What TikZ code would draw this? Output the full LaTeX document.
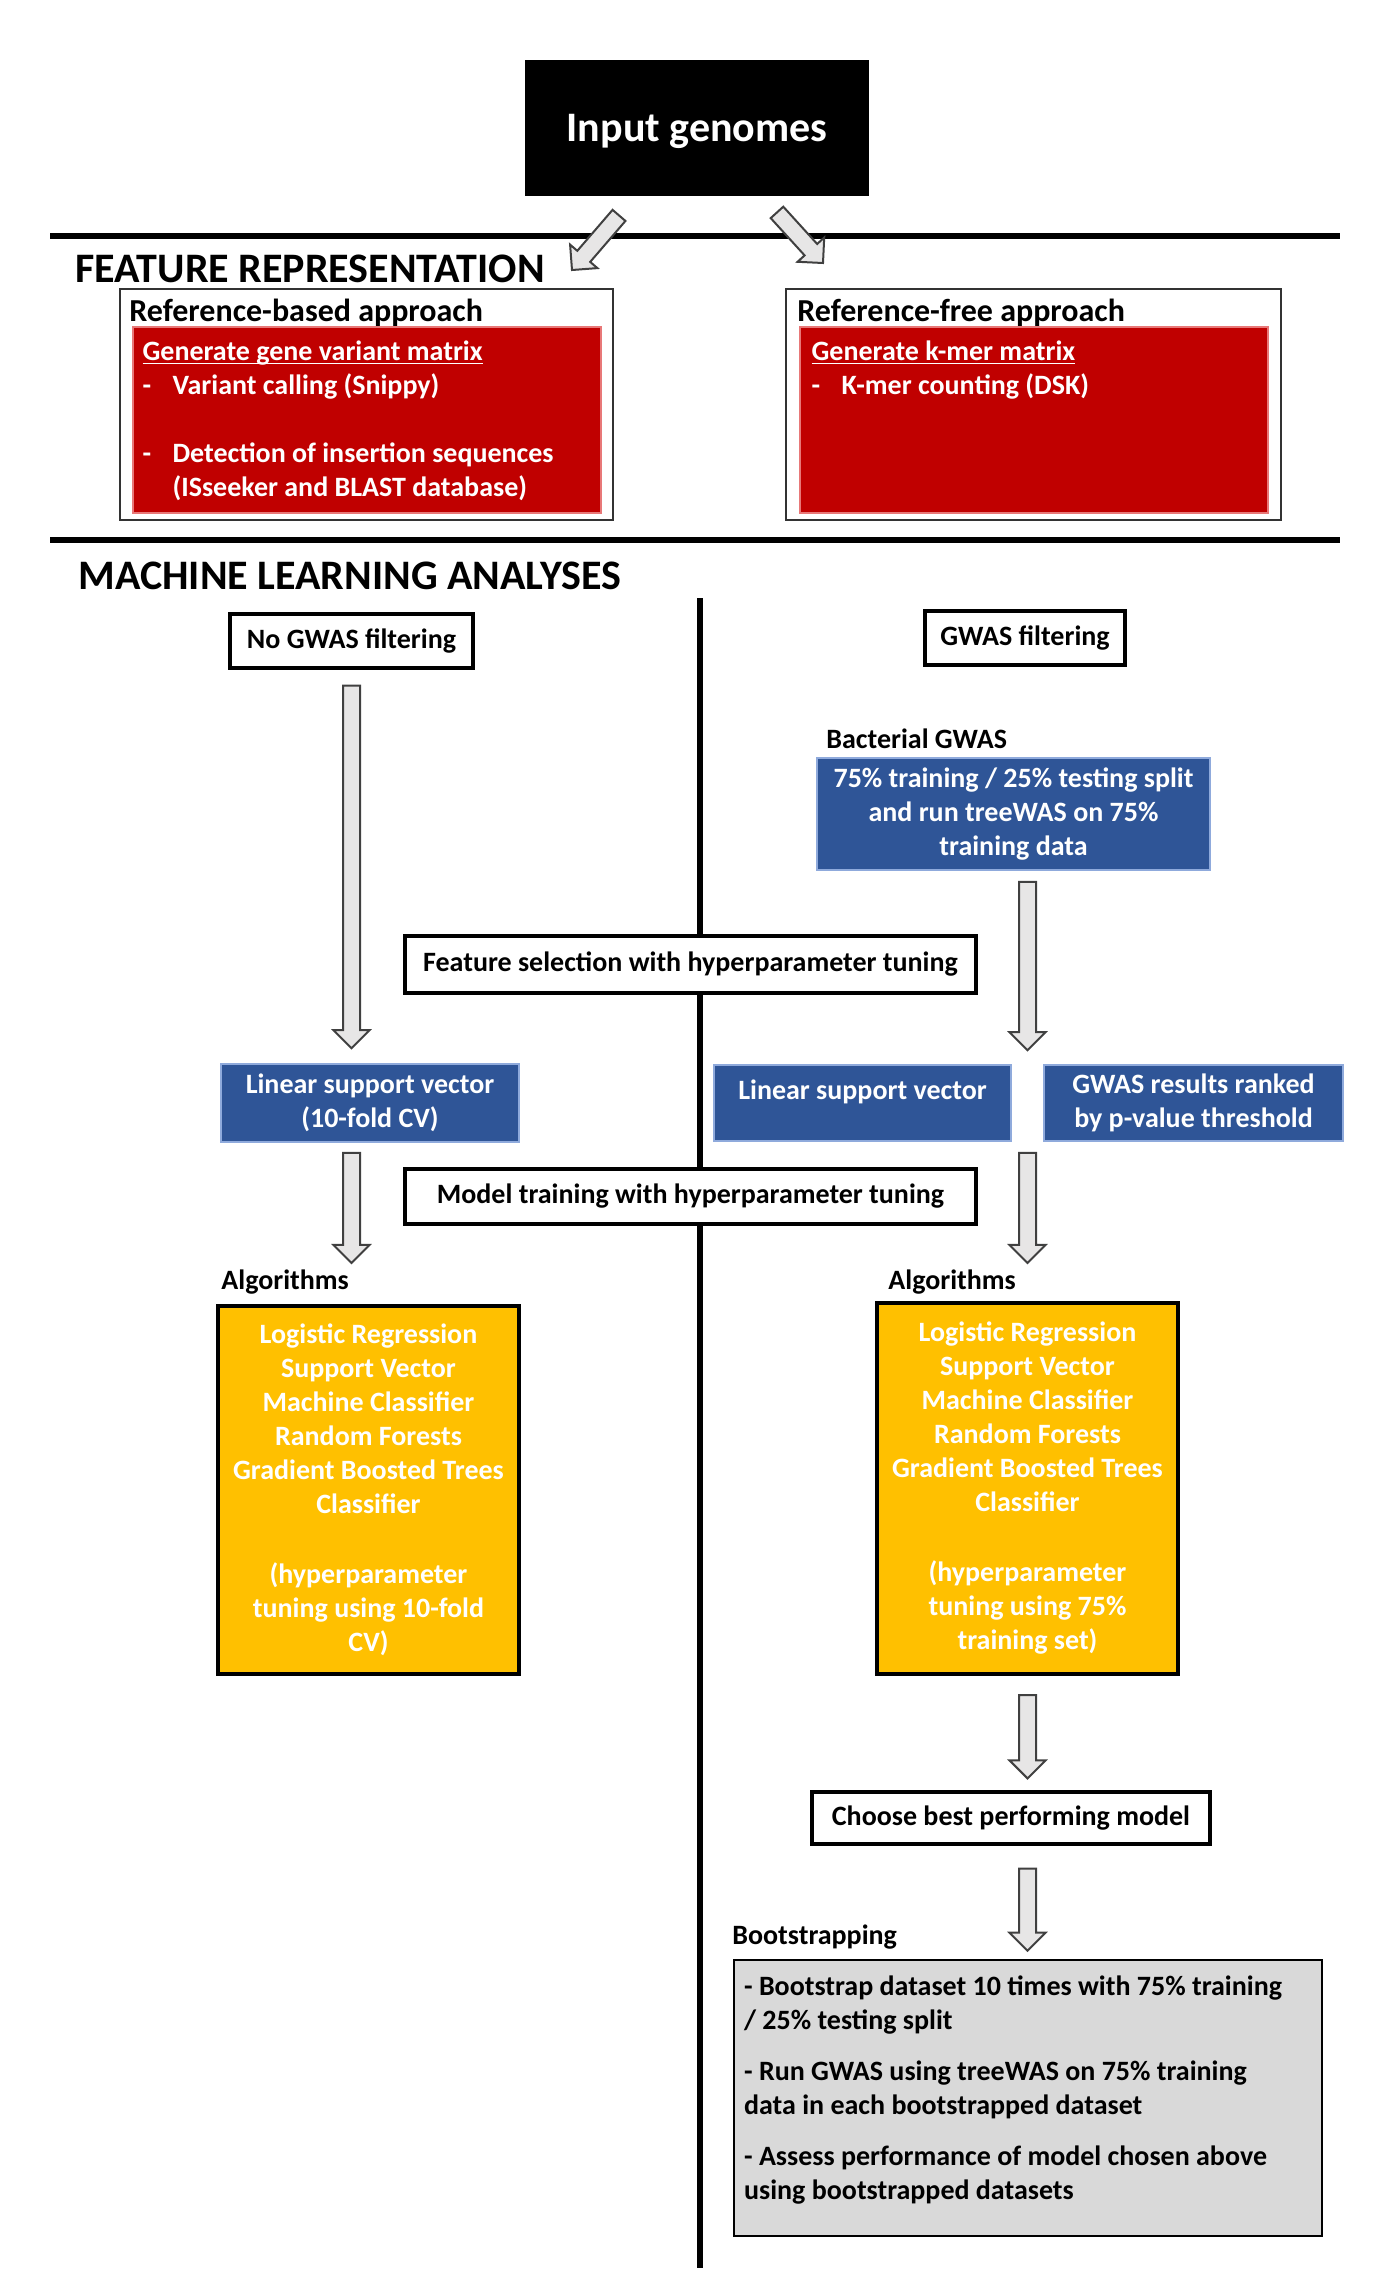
\documentclass[tikz,border=0pt]{standalone}
\usepackage{fontspec}
\setmainfont{Carlito}
\usepackage{tikz}
\usetikzlibrary{calc}
\definecolor{gwasred}{HTML}{C00000}
\definecolor{gwasblue}{HTML}{2F5597}
\definecolor{gwasyellow}{HTML}{FFC000}
\definecolor{gwasgrey}{HTML}{D9D9D9}
\definecolor{arrowfill}{HTML}{E7E6E6}
\definecolor{rededge}{HTML}{E87878}
\definecolor{blueedge}{HTML}{8FAADC}
\newcommand{\ulbox}[1]{\underline{\smash{#1}}}
\tikzset{
	sepline/.style={line width=3.4pt},
	hollow/.style={draw=black!75, fill=arrowfill, line width=1pt, line join=miter},
	outer/.style={draw=black!80, line width=1pt, inner sep=0pt},
	redbox/.style={draw=rededge, fill=gwasred, line width=0.8pt, inner sep=0pt},
	bluebox/.style={draw=blueedge, fill=gwasblue, line width=0.8pt, text=white, align=center, inner sep=0pt},
	yellowbox/.style={draw=black, fill=gwasyellow, line width=2pt, text=white, align=center, inner sep=0pt},
	framebox/.style={draw=black, fill=white, line width=1.6pt, inner sep=0pt},
	greybox/.style={draw=black, fill=gwasgrey, line width=1.3pt, inner sep=0pt},
	heading/.style={font=\bfseries\fontsize{21}{25}\selectfont, anchor=base west, inner sep=0pt},
	sublabel/.style={anchor=base west, inner sep=0pt}
}

\begin{document}
\begin{tikzpicture}[x=0.5pt, y=-0.5pt, font=\bfseries\fontsize{14}{17}\selectfont]
	\def\blockarrow#1#2{ % #1 tail, #2 tip
		\draw[hollow] let \p1=(#1), \p2=(#2), \n1={atan2(\y2-\y1,\x2-\x1)} in
			($(\p1)+(\n1+90:4.25pt)$) -- ($(\p2)+(\n1+180:9pt)+(\n1+90:4.25pt)$)
			-- ($(\p2)+(\n1+180:9pt)+(\n1+90:9pt)$) -- (\p2)
			-- ($(\p2)+(\n1+180:9pt)+(\n1-90:9pt)$) -- ($(\p2)+(\n1+180:9pt)+(\n1-90:4.25pt)$)
			-- ($(\p1)+(\n1-90:4.25pt)$) -- cycle;
	}
	\useasboundingbox (0,0) rectangle (1378,2282);

	\draw[sepline] (50,236) -- (1340,236);
	\draw[sepline] (50,540) -- (1340,540);
	\draw[sepline] (700,598) -- (700,2268);

	\node[fill=black, text=white, minimum width=172pt, minimum height=68pt, text depth=0pt, font=\bfseries\fontsize{21}{25}\selectfont] (input) at (697,128) {Input genomes};

	% feature representation
	\node[heading] (featrep) at (75,282) {FEATURE REPRESENTATION};
	\node[outer, minimum width=246.5pt, minimum height=115.5pt] (refbased) at (366.5,404.5) {};
	\node[outer, minimum width=247.5pt, minimum height=115.5pt] (reffree) at (1033.5,404.5) {};
	\node[sublabel, font=\bfseries\fontsize{16}{19}\selectfont] (refbasedlbl) at ($(refbased.north west)+(10,33)$) {Reference-based approach};
	\node[sublabel, font=\bfseries\fontsize{16}{19}\selectfont] (reffreelbl) at ($(reffree.north west)+(12,33)$) {Reference-free approach};
	\node[redbox, minimum width=234pt, minimum height=93pt] (redleft) at (367,420) {};
	\node[redbox, minimum width=234pt, minimum height=93pt] (redright) at (1034,420) {};
	\node[sublabel, text=white, text width=228pt, align=flush left] (refbasedtxt) at ($(redleft.north west)+(10,34)$)
		{\ulbox{Generate gene variant matrix}\\
		\makebox[15pt][l]{-}Variant calling (Snippy)\\[17pt]
		\makebox[15pt][l]{-}Detection of insertion sequences\\
		\hspace*{15pt}(ISseeker and BLAST database)};
	\node[sublabel, text=white, text width=228pt, align=flush left] (reffreetxt) at ($(redright.north west)+(12,34)$)
		{\ulbox{Generate k-mer matrix}\\
		\makebox[15pt][l]{-}K-mer counting (DSK)};

	% machine learning
	\node[heading] (mlanalyses) at (78,589) {MACHINE LEARNING ANALYSES};
	\node[framebox, minimum width=121.5pt, minimum height=27pt] (nogwas) at (351.5,641) {No GWAS filtering};
	\node[framebox, minimum width=100pt, minimum height=27pt] (gwas) at (1025,638) {GWAS filtering};
	\node[sublabel] (bactgwas) at (826,748) {Bacterial GWAS};
	\node[bluebox, minimum width=196.5pt, minimum height=56pt] (gwasbox) at (1013.5,814)
		{75\% training / 25\% testing split\\and run treeWAS on 75\%\\training data};
	\node[framebox, minimum width=285.5pt, minimum height=28.5pt] (featsel) at (690.5,964.5) {Feature selection with hyperparameter tuning};
	\node[bluebox, minimum width=149pt, minimum height=39pt] (lsvleft) at (370,1103) {Linear support vector\\(10-fold CV)};
	\node[bluebox, minimum width=148.5pt, minimum height=38pt] (lsvright) at (862.5,1103) {};
	\node[text=white, inner sep=0pt] (lsvrighttxt) at ($(lsvright.north)+(0,28)$) {Linear support vector};
	\node[bluebox, minimum width=149.5pt, minimum height=38pt] (gwasrank) at (1193.5,1103) {GWAS results ranked\\by p-value threshold};
	\node[framebox, minimum width=285.5pt, minimum height=27.5pt] (modeltrain) at (690.5,1196.5) {Model training with hyperparameter tuning};
	\node[sublabel] (algleft) at (221,1289) {Algorithms};
	\node[sublabel] (algright) at (888,1289) {Algorithms};
	\node[yellowbox, minimum width=150.5pt, minimum height=184pt] (yelleft) at (368.5,1490)
		{Logistic Regression\\Support Vector\\Machine Classifier\\Random Forests\\Gradient Boosted Trees\\Classifier\\[18pt]
		(hyperparameter\\tuning using 10-fold\\CV)};
	\node[yellowbox, minimum width=150.5pt, minimum height=185.5pt] (yelright) at (1027.5,1488.5)
		{Logistic Regression\\Support Vector\\Machine Classifier\\Random Forests\\Gradient Boosted Trees\\Classifier\\[18pt]
		(hyperparameter\\tuning using 75\%\\training set)};
	\node[framebox, minimum width=199pt, minimum height=26pt] (best) at (1011,1818) {Choose best performing model};
	\node[sublabel] (bootlbl) at (732,1944) {Bootstrapping};
	\node[greybox, minimum width=294pt, minimum height=138pt] (greybox) at (1028,2098) {};
	\node[sublabel, text width=282pt, align=flush left] (boottxt) at ($(greybox.north west)+(11,37)$)
		{- Bootstrap dataset 10 times with 75\% training\\/ 25\% testing split\\[8.5pt]
		- Run GWAS using treeWAS on 75\% training\\data in each bootstrapped dataset\\[8.5pt]
		- Assess performance of model chosen above\\using bootstrapped datasets};

	\coordinate (split) at ($(lsvright.north east)!.5!(gwasrank.north west)$);
	\coordinate (inleft) at ($(input.south)+(-78,19)$);
	\coordinate (inright) at ($(input.south)+(80,16)$);
	\coordinate (reftip) at (572,270);
	\coordinate (freetip) at (823,263);

	% block arrows
	\blockarrow{inleft}{reftip}
	\blockarrow{inright}{freetip}
	\blockarrow{$(nogwas.south)+(0,16)$}{$(nogwas.south |- lsvleft.north)+(0,-15)$}
	\blockarrow{$(gwasbox.south -| split)+(0,11)$}{$(split)+(0,-14)$}
	\blockarrow{$(lsvleft.south -| nogwas.south)+(0,10)$}{$(nogwas.south |- algleft.north)+(0,-6)$}
	\blockarrow{$(lsvright.south -| split)+(0,11)$}{$(split |- algright.north)+(0,-6)$}
	\blockarrow{$(yelright.south -| split)+(0,19)$}{$(split |- best.north)+(0,-12)$}
	\blockarrow{$(best.south -| split)+(0,23)$}{$(split |- greybox.north)+(0,-8)$}
\end{tikzpicture}
\end{document}
